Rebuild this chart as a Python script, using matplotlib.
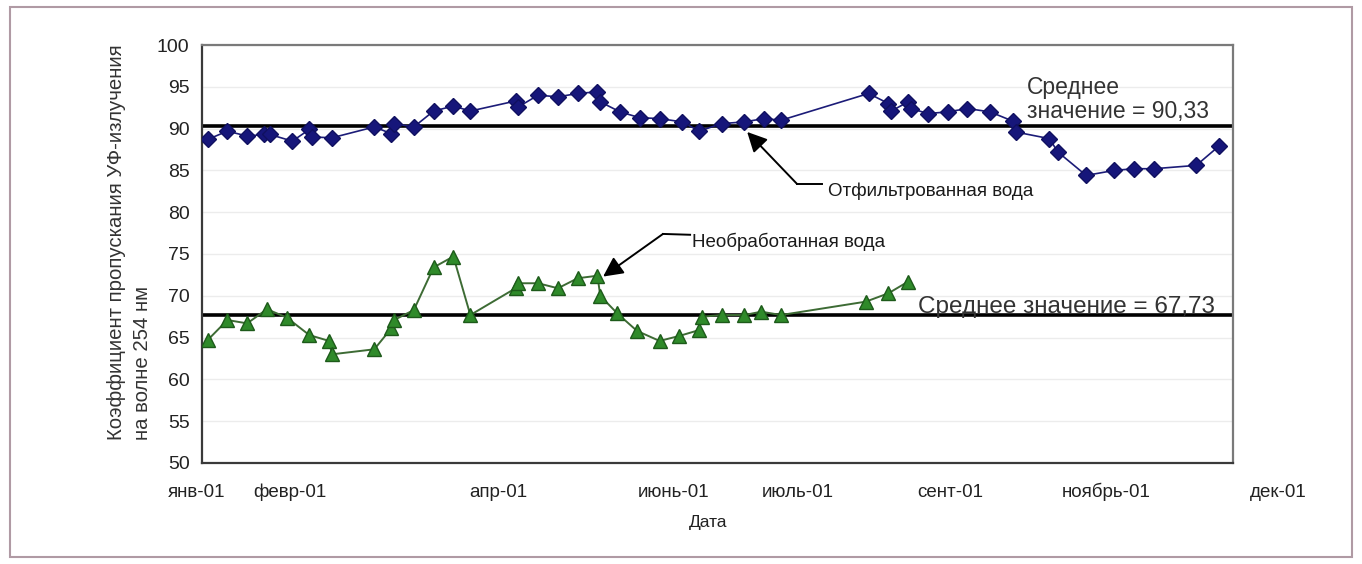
import matplotlib
matplotlib.use("Agg")
import matplotlib.pyplot as plt
from matplotlib.patches import Rectangle

plt.rcParams['font.family'] = ['Liberation Sans', 'DejaVu Sans']

# Отфильтрованная вода (day of year, UV transmittance %)
filtered_day = [2, 9, 16, 22, 24, 32, 38, 39, 46, 61, 67, 68, 75, 82, 89, 95,
                111, 112, 119, 126, 133, 140, 141, 148, 155, 162, 170, 176, 184,
                192, 199, 205, 236, 243, 244, 250, 251, 257, 264, 271, 279, 287,
                288, 300, 303, 313, 323, 330, 337, 352, 360]
filtered_val = [88.7, 89.7, 89.1, 89.3, 89.3, 88.5, 89.9, 89.0, 88.9, 90.2, 89.4,
                90.6, 90.2, 92.1, 92.7, 92.1, 93.3, 92.6, 94.0, 93.8, 94.2, 94.4,
                93.2, 92.0, 91.3, 91.2, 90.8, 89.7, 90.6, 90.8, 91.2, 91.0, 94.2,
                93.0, 92.1, 93.2, 92.4, 91.8, 92.0, 92.4, 92.0, 90.9, 89.6, 88.8,
                87.2, 84.4, 85.0, 85.2, 85.2, 85.6, 87.9]

# Необработанная вода
raw_day = [2, 9, 16, 23, 30, 38, 45, 46, 61, 67, 68, 75, 82, 89, 95, 111, 112,
           119, 126, 133, 140, 141, 147, 154, 162, 169, 176, 177, 184, 192, 198,
           205, 235, 243, 250]
raw_val = [64.7, 67.1, 66.7, 68.4, 67.4, 65.3, 64.6, 63.0, 63.6, 66.1, 67.1, 68.3,
           73.4, 74.7, 67.7, 70.9, 71.5, 71.5, 70.9, 72.1, 72.4, 70.0, 67.9, 65.8,
           64.6, 65.2, 65.9, 67.5, 67.7, 67.7, 68.1, 67.7, 69.3, 70.3, 71.7]

mean_filtered = 90.33
mean_raw = 67.73

month_labels = ['янв-01', 'февр-01', 'апр-01', 'июнь-01', 'июль-01',
                'сент-01', 'ноябрь-01', 'дек-01']
month_pos = [-2, 31, 105, 167, 211, 265, 320, 381]

fig = plt.figure(figsize=(13.62, 5.64), dpi=100)
ax = fig.add_axes([0.1483, 0.1791, 0.7570, 0.7411])

ax.set_xlim(0, 365)
ax.set_ylim(50, 100)
ax.set_yticks(range(50, 101, 5))
ax.set_xticks([])
ax.tick_params(axis='y', length=0, pad=9, labelsize=14, colors='#222222')
ax.grid(axis='y', color='#ececec', lw=1)
ax.set_axisbelow(True)

for side in ['left', 'bottom']:
    ax.spines[side].set_color('#3a3a3a')
    ax.spines[side].set_linewidth(1.6)
for side in ['top', 'right']:
    ax.spines[side].set_color('#7a7a7a')
    ax.spines[side].set_linewidth(1.6)

# mean lines
ax.axhline(mean_filtered, color='black', lw=2.6, zorder=2)
ax.axhline(mean_raw, color='black', lw=2.6, zorder=2)

ax.plot(filtered_day, filtered_val, color='#1c1c78', lw=1.2, marker='D',
        ms=8, mfc='#16167a', mec='#101060', zorder=3)
ax.plot(raw_day, raw_val, color='#3d6b34', lw=1.4, marker='^',
        ms=10.5, mfc='#2f8a2a', mec='#1d5a1a', zorder=3)

# x labels placed under the axis
for lab, pos in zip(month_labels, month_pos):
    ax.text(pos, -0.07, lab, transform=ax.get_xaxis_transform(), ha='center',
            va='center', fontsize=13.5, color='#222222', clip_on=False)

fig.text(708 / 1362, 1 - 522 / 564, 'Дата', ha='center', va='center',
         fontsize=12.5, color='#222222')
fig.text(0.095, 0.22, 'Коэффициент пропускания УФ-излучения\nна волне 254 нм',
         rotation=90, ha='center', va='bottom', multialignment='left',
         fontsize=14.7, color='#333333', linespacing=1.45)

ax.text(292, 93.5, 'Среднее\nзначение = 90,33', ha='left', va='center',
        fontsize=16.5, color='#333333', linespacing=1.05)
ax.text(253.5, 68.7, 'Среднее значение = 67,73', ha='left', va='center',
        fontsize=17.5, color='#333333')

ax.text(221.6, 82.5, 'Отфильтрованная вода', ha='left', va='center',
        fontsize=13.5, color='#1a1a1a')
ax.text(173.5, 76.5, 'Необработанная вода', ha='left', va='center',
        fontsize=13.5, color='#1a1a1a')

# arrows
arrow_kw = dict(arrowstyle='-|>', mutation_scale=30, lw=1.4, color='black',
                shrinkA=0, shrinkB=0)
ax.plot([210.6, 219.5], [83.4, 83.4], color='black', lw=1.4)
ax.annotate('', xy=(193, 89.6), xytext=(210.6, 83.4), arrowprops=arrow_kw)
ax.plot([163.2, 172.8], [77.4, 77.3], color='black', lw=1.4)
ax.annotate('', xy=(142, 72.3), xytext=(163.2, 77.4), arrowprops=arrow_kw)

# outer frame of the figure
fig.patches.append(Rectangle((10 / 1362, 1 - 557 / 564), 1342 / 1362, 550 / 564,
                             transform=fig.transFigure, fill=False,
                             ec='#b09aa4', lw=1.5))

fig.savefig('out.png', dpi=100)
